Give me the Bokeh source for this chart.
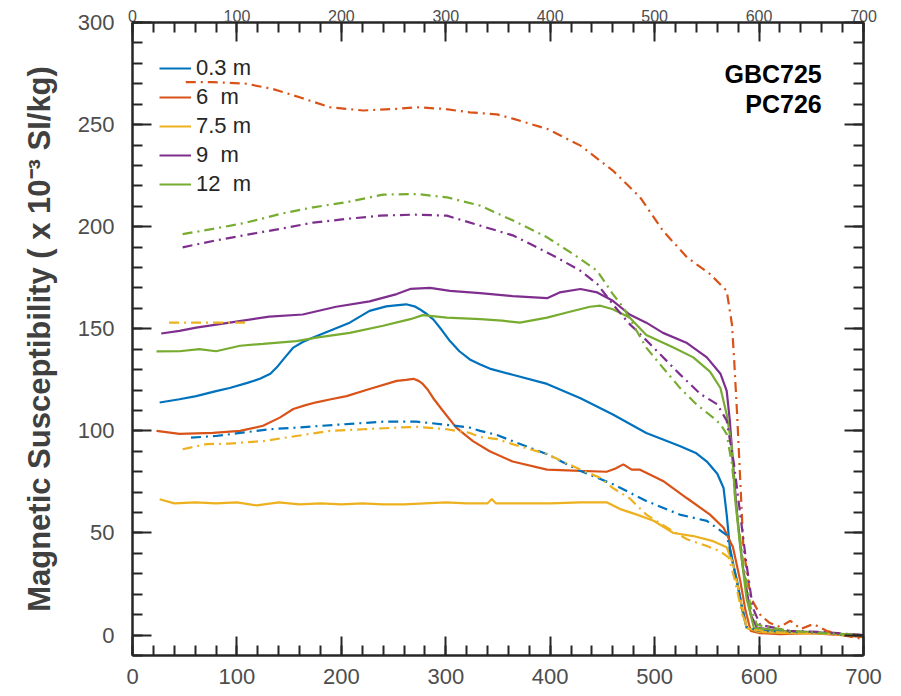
import numpy as np
from bokeh.plotting import figure
from bokeh.models import (Range1d, LinearAxis, SingleIntervalTicker, Legend, LegendItem,
                          Label, CustomJSTickFormatter)
from bokeh.embed import file_html
from bokeh.resources import INLINE

# ---------------- data ----------------
depth_labels = ["0.3 m", "6  m", "7.5 m", "9  m", "12  m"]
colors = ["#0072BD", "#D95319", "#EDB120", "#7E2F8E", "#77AC30"]

# GBC725 (solid lines)
gbc_03_x = [26, 45, 61, 80, 93, 110, 122, 132, 138, 146, 154, 163, 173, 189, 208, 227, 243, 252, 262, 270,
            275, 281, 288, 296, 304, 313, 323, 333, 342, 364, 397, 429, 460, 492, 524, 540, 550, 560, 566,
            569, 572, 576, 579, 584, 588, 595, 610, 630, 650, 670, 690, 700]
gbc_03_y = [113.9, 115.5, 117, 119.5, 121, 123.5, 125.5, 128, 131, 136, 140.8, 143.5, 145.7, 149, 153, 158.8,
            161, 161.5, 162, 161, 159.6, 157.5, 154.6, 149.5, 144, 139, 135, 132.5, 130.5, 127.5, 123, 116,
            108, 99, 92.6, 89, 85, 79, 72, 59, 43, 33, 26.5, 12, 3.6, 2.5, 2, 1.5, 1.2, 0.8, 0, -0.5]

gbc_6_x = [23, 45, 77, 103, 125, 141, 154, 165, 176, 190, 205, 227, 253, 262, 269, 274, 278, 283, 288, 297,
           310, 326, 342, 364, 397, 429, 454, 462, 470, 478, 486, 508, 531, 553, 566, 575, 582, 587, 592,
           600, 620, 650, 680, 700]
gbc_6_y = [100, 98.5, 99, 100, 102.5, 106.5, 110.7, 112.5, 114, 115.5, 117, 120.5, 124.5, 125, 125.5, 124.5,
           123, 120, 116, 110, 101.6, 95, 90, 85, 81, 80.4, 80, 81.5, 83.6, 81, 81, 75.5, 67, 59, 52.6, 43,
           26.5, 12, 2, 1, 0.5, 1, 0, -1]

gbc_75_x = [26, 40, 60, 80, 100, 119, 140, 160, 180, 200, 220, 240, 260, 280, 300, 320, 340, 344, 348, 370,
            400, 429, 454, 467, 483, 499, 518, 537, 556, 569, 575, 582, 588, 600, 630, 660, 700]
gbc_75_y = [66.5, 64.5, 65, 64.5, 65, 63.5, 65, 64, 64.5, 64, 64.5, 64, 64, 64.5, 65, 64.5, 64.5, 66.7, 64.5,
            64.5, 64.5, 65, 65, 61.7, 59, 56, 50, 48.5, 46, 43, 35, 18, 3.6, 1.5, 1, 0.8, -0.5]

gbc_9_x = [27.5, 45, 61, 93, 131, 163, 195, 227, 253, 266, 285, 304, 333, 364, 397, 409, 429, 445, 460, 476,
           492, 508, 531, 550, 563, 569, 572, 575, 579, 584, 592, 598, 620, 650, 680, 700]
gbc_9_y = [147.7, 149, 150.6, 153, 156, 157, 160.8, 163.4, 167, 169.5, 170, 168.6, 167.5, 166, 165, 167.8,
           169.5, 167.8, 163.7, 157, 153, 148, 143, 136, 128, 119.6, 105, 84, 59, 35, 10, 3.6, 2, 1.5, 0.5, 0]

gbc_12_x = [23, 45, 64, 80, 103, 125, 157, 176, 208, 240, 266, 278, 301, 333, 354, 371, 397, 416, 438, 448,
            460, 476, 492, 518, 537, 553, 563, 569, 574, 577, 582, 588, 595, 620, 650, 680, 700]
gbc_12_y = [138.9, 139, 140, 139, 141.7, 142.6, 144, 145.7, 148, 151.5, 154.7, 156.7, 155.5, 154.7, 154, 153,
            155.5, 158, 160.8, 161.3, 159.6, 155.5, 147, 140.8, 136, 129, 121, 108, 91.8, 67, 43, 18, 3.6,
            2, 1.5, 0.5, 0]

# PC726 (dash-dot lines)
pc_03_x = [56, 80, 103, 131, 157, 195, 240, 272, 301, 323, 333, 349, 364, 397, 429, 460, 492, 524, 550, 569,
           575, 582, 588, 600, 630, 660, 700]
pc_03_y = [96.7, 97.5, 99, 100.8, 101.6, 103, 104.5, 104.5, 103, 101.6, 100, 98, 95, 88.6, 80.4, 73.9, 65.7,
           59, 55.9, 49, 35, 18, 4, 2, 1.5, 1, -0.5]

pc_6_x = [51, 77, 109, 134, 160, 189, 221, 253, 272, 298, 323, 349, 365, 397, 429, 460, 486, 508, 531, 553,
          569, 574, 576, 579, 582, 585, 592, 601, 610, 620, 630, 640, 652, 665, 680, 700]
pc_6_y = [270.8, 270.8, 270, 267.5, 263.4, 258.5, 256.9, 257.7, 258.5, 257.7, 256, 255, 252.8, 247.9, 239.7,
          227.5, 214.4, 198, 185, 176.8, 168.6, 152.3, 136, 108, 75.5, 42.8, 18.3, 10, 6, 4, 7, 3, 5.4, 2,
          0, -2]

pc_75_x = [35, 70, 108, np.nan, 48, 71, 93, 125, 157, 189, 221, 253, 272, 301, 323, 333, 349, 364, 397, 429,
           448, 460, 476, 492, 512, 531, 550, 563, 571, 577, 584, 590, 610, 640, 670, 700]
pc_75_y = [153, 153, 153, np.nan, 91, 93.5, 93.8, 95, 97.5, 100, 100.8, 101.6, 102, 100.8, 99, 97, 96, 93.5,
           88.6, 81, 77, 72, 67, 59, 52.6, 46.9, 43.6, 41, 37.9, 26.5, 10, 3, 1.5, 1, 0.5, -0.5]

pc_9_x = [48, 77, 109, 141, 173, 205, 237, 269, 301, 333, 365, 381, 406, 429, 445, 460, 476, 483, 499, 524,
          544, 560, 569, 576, 582, 588, 594, 601, 630, 660, 700]
pc_9_y = [189.9, 193, 196, 198.9, 202, 203.8, 205.4, 205.9, 205.4, 200.5, 195.6, 191.5, 185, 178.4, 172, 162,
          152.3, 149, 140.8, 127.8, 118, 113, 105, 83.7, 59, 34.6, 13.4, 5, 2, 1.5, 0]

pc_12_x = [48, 77, 109, 141, 173, 205, 240, 272, 301, 333, 365, 397, 422, 445, 460, 470, 492, 505, 524, 540,
           556, 563, 569, 574, 579, 585, 592, 598, 630, 660, 700]
pc_12_y = [196.4, 198.9, 202, 206.2, 209.5, 212, 215.7, 216, 214.4, 210.3, 202.9, 194.8, 186.6, 178.4, 167,
           160.4, 140.8, 132.7, 121.2, 113, 106.5, 103.3, 98.4, 83.7, 59, 34.6, 13.4, 5, 2, 1, 0]

core_labels = ["GBC725", "PC726"]
y_label = "Magnetic Susceptibility ( x 10\u207b\u00b3 SI/kg)"

gbc = [(gbc_03_x, gbc_03_y), (gbc_6_x, gbc_6_y), (gbc_75_x, gbc_75_y), (gbc_9_x, gbc_9_y), (gbc_12_x, gbc_12_y)]
pc = [(pc_03_x, pc_03_y), (pc_6_x, pc_6_y), (pc_75_x, pc_75_y), (pc_9_x, pc_9_y), (pc_12_x, pc_12_y)]

# ---------------- figure ----------------
AX = "#262626"
TXT = "#4D4D4D"
FONT = "Liberation Sans"

p = figure(width=901, height=696, x_range=Range1d(0, 700), y_range=Range1d(-10, 300),
           output_backend="svg", toolbar_location=None,
           min_border_left=132, min_border_right=38, min_border_top=22, min_border_bottom=41)
p.grid.visible = False
p.outline_line_color = None
p.background_fill_color = "white"
p.border_fill_color = "white"

def style_axis(ax, ticker):
    ax.ticker = ticker
    ax.axis_line_color = AX
    ax.axis_line_width = 2.5
    ax.major_tick_line_color = AX
    ax.major_tick_line_width = 2
    ax.minor_tick_line_color = AX
    ax.minor_tick_line_width = 2
    ax.major_tick_in = 19
    ax.major_tick_out = 0
    ax.minor_tick_in = 10
    ax.minor_tick_out = 0
    ax.major_label_text_font = FONT
    ax.major_label_text_font_size = "22px"
    ax.major_label_text_color = TXT

xt = lambda: SingleIntervalTicker(interval=100, num_minor_ticks=5)
yt = lambda: SingleIntervalTicker(interval=50, num_minor_ticks=5)

style_axis(p.xaxis[0], xt())
p.xaxis[0].major_label_standoff = 13
style_axis(p.yaxis[0], yt())
p.yaxis[0].major_label_standoff = 18
p.yaxis[0].axis_label = y_label
p.yaxis[0].axis_label_text_font = FONT
p.yaxis[0].axis_label_text_font_style = "bold"
p.yaxis[0].axis_label_text_font_size = "31px"
p.yaxis[0].axis_label_text_color = "#404040"
p.yaxis[0].axis_label_standoff = 18

# top axis: labels squeezed into the thin top margin
top = LinearAxis()
style_axis(top, xt())
top.major_label_text_font_size = "16px"
top.major_label_standoff = 1
p.add_layout(top, "above")

right = LinearAxis(formatter=CustomJSTickFormatter(code="return ''"))
style_axis(right, yt())
right.major_label_standoff = 0
p.add_layout(right, "right")

items = []
for (xs, ys), c, lab in zip(gbc, colors, depth_labels):
    r = p.line(xs, ys, line_color=c, line_width=2.2)
    items.append(LegendItem(label=lab, renderers=[r]))
for (xs, ys), c in zip(pc, colors):
    p.line(xs, ys, line_color=c, line_width=2.2, line_dash="10 5 2 5")

legend = Legend(items=items, location=(27, 458), orientation="vertical",
                label_text_font=FONT, label_text_font_size="22px", label_text_color="#262626",
                glyph_width=32, glyph_height=26, label_height=26, spacing=3, padding=0, margin=0,
                label_standoff=5, background_fill_alpha=0, border_line_color=None)
p.add_layout(legend, "center")

for lab, yv in zip(core_labels, [275, 260]):
    p.add_layout(Label(x=660, y=yv, text=lab, text_align="right", text_baseline="alphabetic",
                       text_font=FONT, text_font_style="bold", text_font_size="25px",
                       text_color="black"))

open("out.html", "w").write(file_html(p, INLINE))
